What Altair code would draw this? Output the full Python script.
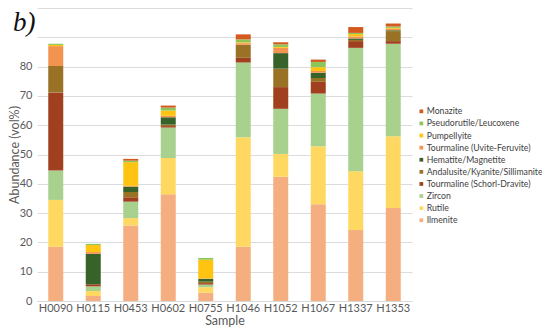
import altair as alt
import pandas as pd

samples = ["H0090", "H0115", "H0453", "H0602", "H0755", "H1046", "H1052", "H1067", "H1337", "H1353"]

# stacking order: bottom -> top
minerals = [
    "Ilmenite", "Rutile", "Zircon", "Tourmaline (Schorl-Dravite)",
    "Andalusite/Kyanite/Sillimanite", "Hematite/Magnetite",
    "Tourmaline (Uvite-Feruvite)", "Pumpellyite", "Pseudorutile/Leucoxene", "Monazite",
]
colors = ["#F4AE80", "#FFD862", "#A8D18D", "#A0401E", "#997226", "#37622A",
          "#F29450", "#FFC312", "#8CC65A", "#D5591F"]

ilmenite     = [18.5, 1.7, 25.8, 36.4, 2.8, 18.5, 42.4, 33.0, 24.2, 31.7]
rutile       = [16.0, 1.7, 2.5, 12.4, 1.9, 37.4, 7.8, 19.8, 20.1, 24.5]
zircon       = [10.0, 1.6, 5.6, 10.4, 0.9, 25.5, 15.4, 18.0, 42.1, 31.6]
schorl       = [26.7, 0.7, 1.5, 0.5, 0.5, 1.6, 7.4, 4.0, 2.3, 0.9]
andalusite   = [9.0, 0.0, 1.8, 0.5, 0.5, 4.5, 6.3, 1.3, 0.4, 3.4]
hematite     = [0.0, 10.4, 1.8, 2.5, 0.9, 0.0, 5.3, 1.8, 0.5, 0.3]
uvite        = [6.8, 0.6, 0.3, 0.5, 0.2, 0.5, 1.8, 0.6, 0.7, 0.5]
pumpellyite  = [0.4, 2.4, 8.1, 1.8, 6.4, 0.3, 0.3, 1.3, 0.8, 0.3]
pseudorutile = [0.4, 0.4, 0.5, 1.0, 0.6, 1.0, 0.9, 1.8, 0.4, 0.5]
monazite     = [0.0, 0.0, 0.6, 0.7, 0.0, 1.7, 0.7, 0.8, 2.0, 1.0]

series = [ilmenite, rutile, zircon, schorl, andalusite, hematite,
          uvite, pumpellyite, pseudorutile, monazite]

rows = []
for k, (m, vals) in enumerate(zip(minerals, series)):
    for s, v in zip(samples, vals):
        rows.append({"Sample": s, "Mineral": m, "Value": v, "rank": k})
df = pd.DataFrame(rows)

legend_domain = list(reversed(minerals))
legend_range = list(reversed(colors))

FONT = "Lato"

bars = alt.Chart(df).mark_bar(strokeWidth=0).encode(
    x=alt.X("Sample:N", sort=samples,
            scale=alt.Scale(paddingInner=0.6, paddingOuter=0.3),
            axis=alt.Axis(title="Sample", labelAngle=0, labelFontSize=11,
                          labelColor="#595959", labelFont=FONT, ticks=False,
                          domainColor="#d9d9d9", labelPadding=1,
                          titleFont=FONT, titleFontSize=12.5, titleFontWeight="normal",
                          titleColor="#595959", titlePadding=1)),
    y=alt.Y("Value:Q", stack="zero",
            scale=alt.Scale(domain=[0, 100], nice=False),
            axis=alt.Axis(title="Abundance (vol%)", values=list(range(0, 101, 10)),
                          labelExpr="datum.value > 80 ? '' : datum.label",
                          labelFontSize=11, labelColor="#595959", labelFont=FONT,
                          ticks=False, domain=False, gridColor="#dcdcdc",
                          labelPadding=5, titleFont=FONT, titleFontSize=12.5,
                          titleFontWeight="normal", titleColor="#595959",
                          titlePadding=-2)),
    color=alt.Color("Mineral:N",
                    scale=alt.Scale(domain=legend_domain, range=legend_range),
                    legend=alt.Legend(title=None, orient="none", legendX=380, legendY=99,
                                      symbolType="square", symbolSize=14,
                                      symbolStrokeWidth=0, labelFont=FONT,
                                      labelFontSize=8.7, labelColor="#404040",
                                      labelOffset=1, rowPadding=2.1, labelLimit=200)),
    order=alt.Order("rank:Q", sort="ascending"),
)

label = alt.Chart(pd.DataFrame({"t": ["b)"]})).mark_text(
    font="Liberation Serif", fontStyle="italic", fontSize=27, align="left",
    baseline="alphabetic", color="#111111"
).encode(text="t:N", x=alt.value(-24), y=alt.value(23))

chart = alt.layer(bars, label).properties(
    width=375, height=293,
    autosize=alt.AutoSizeParams(type="none"),
    padding={"left": 29, "top": 0, "right": 130, "bottom": 28},
).configure_view(stroke=None)

chart.save("out.html", embed_options={"renderer": "svg", "actions": False})
